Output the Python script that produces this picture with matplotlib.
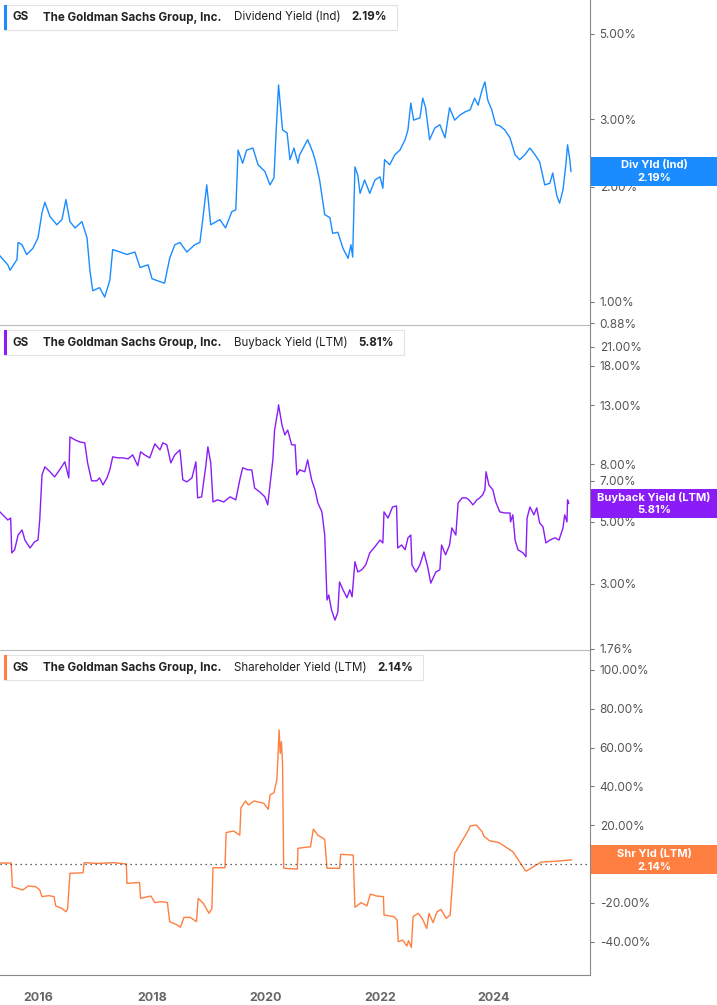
import matplotlib
matplotlib.use("Agg")
import matplotlib.pyplot as plt
from matplotlib.patches import Rectangle
import numpy as np

plt.rcParams["font.family"] = "Inter"

# ---------------- data ----------------
div_dates = [2015.33, 2015.47, 2015.51, 2015.63, 2015.65, 2015.72, 2015.80, 2015.91, 2016.00, 2016.07,
             2016.12, 2016.21, 2016.33, 2016.42, 2016.49, 2016.56, 2016.65, 2016.77, 2016.86, 2016.91,
             2016.96, 2017.08, 2017.17, 2017.26, 2017.31, 2017.44, 2017.56, 2017.70, 2017.79, 2017.93,
             2018.00, 2018.14, 2018.22, 2018.31, 2018.40, 2018.49, 2018.61, 2018.75, 2018.84, 2018.89,
             2018.96, 2019.03, 2019.19, 2019.29, 2019.40, 2019.47, 2019.51, 2019.59, 2019.66, 2019.77,
             2019.86, 2019.98, 2020.07, 2020.14, 2020.17, 2020.22, 2020.29, 2020.37, 2020.42, 2020.49,
             2020.56, 2020.59, 2020.73, 2020.82, 2020.87, 2020.94, 2021.03, 2021.12, 2021.17, 2021.26,
             2021.35, 2021.44, 2021.49, 2021.52, 2021.56, 2021.61, 2021.65, 2021.73, 2021.82, 2021.91,
             2022.00, 2022.05, 2022.08, 2022.17, 2022.26, 2022.35, 2022.44, 2022.49, 2022.54, 2022.59,
             2022.70, 2022.75, 2022.80, 2022.87, 2022.96, 2023.05, 2023.14, 2023.22, 2023.31, 2023.40,
             2023.49, 2023.58, 2023.66, 2023.72, 2023.79, 2023.84, 2023.89, 2023.96, 2024.03, 2024.10,
             2024.19, 2024.28, 2024.37, 2024.45, 2024.54, 2024.63, 2024.72, 2024.80, 2024.89, 2024.98,
             2025.03, 2025.10, 2025.15, 2025.21, 2025.26, 2025.29, 2025.33, 2025.35]
div_yield = [1.32, 1.25, 1.21, 1.29, 1.43, 1.41, 1.33, 1.38, 1.47, 1.71,
             1.82, 1.67, 1.59, 1.64, 1.85, 1.62, 1.56, 1.62, 1.47, 1.21,
             1.07, 1.09, 1.03, 1.14, 1.37, 1.35, 1.33, 1.35, 1.23, 1.25,
             1.15, 1.13, 1.12, 1.30, 1.41, 1.43, 1.35, 1.41, 1.43, 1.64,
             2.02, 1.59, 1.64, 1.56, 1.72, 1.74, 2.49, 2.30, 2.49, 2.52,
             2.28, 2.19, 2.02, 2.11, 2.65, 3.68, 2.81, 2.76, 2.35, 2.52,
             2.30, 2.42, 2.65, 2.46, 2.32, 2.08, 1.69, 1.66, 1.51, 1.52,
             1.38, 1.30, 1.41, 1.31, 2.25, 2.14, 1.92, 2.08, 1.92, 2.08,
             2.12, 1.98, 2.35, 2.28, 2.42, 2.49, 2.65, 2.81, 3.30, 2.98,
             3.02, 3.40, 3.21, 2.65, 2.84, 2.90, 2.68, 3.21, 2.98, 3.07,
             3.13, 3.17, 3.40, 3.26, 3.57, 3.75, 3.36, 3.17, 2.90, 2.88,
             2.81, 2.68, 2.42, 2.35, 2.42, 2.52, 2.42, 2.32, 2.02, 2.04,
             2.17, 1.90, 1.81, 1.96, 2.28, 2.57, 2.35, 2.19]

bb_dates = [2015.33, 2015.47, 2015.52, 2015.54, 2015.59, 2015.65, 2015.72, 2015.77, 2015.86, 2015.94,
            2016.00, 2016.03, 2016.07, 2016.12, 2016.21, 2016.29, 2016.38, 2016.47, 2016.54, 2016.56,
            2016.65, 2016.73, 2016.82, 2016.87, 2016.94, 2017.03, 2017.08, 2017.14, 2017.21, 2017.26,
            2017.31, 2017.40, 2017.49, 2017.58, 2017.66, 2017.75, 2017.80, 2017.87, 2017.96, 2018.05,
            2018.14, 2018.19, 2018.26, 2018.33, 2018.40, 2018.49, 2018.54, 2018.61, 2018.70, 2018.77,
            2018.80, 2018.87, 2018.94, 2018.98, 2019.03, 2019.07, 2019.15, 2019.26, 2019.37, 2019.47,
            2019.54, 2019.59, 2019.68, 2019.75, 2019.80, 2019.89, 2019.98, 2020.03, 2020.07, 2020.12,
            2020.15, 2020.21, 2020.22, 2020.28, 2020.33, 2020.38, 2020.45, 2020.51, 2020.54, 2020.59,
            2020.68, 2020.73, 2020.80, 2020.86, 2020.91, 2020.98, 2021.03, 2021.07, 2021.10, 2021.15,
            2021.21, 2021.26, 2021.29, 2021.35, 2021.42, 2021.47, 2021.51, 2021.56, 2021.61, 2021.68,
            2021.75, 2021.82, 2021.91, 2022.00, 2022.05, 2022.07, 2022.14, 2022.22, 2022.29, 2022.31,
            2022.38, 2022.44, 2022.49, 2022.54, 2022.56, 2022.63, 2022.70, 2022.77, 2022.84, 2022.89,
            2022.98, 2023.05, 2023.08, 2023.15, 2023.22, 2023.26, 2023.33, 2023.37, 2023.44, 2023.51,
            2023.56, 2023.63, 2023.70, 2023.75, 2023.80, 2023.84, 2023.86, 2023.91, 2023.98, 2024.03,
            2024.10, 2024.19, 2024.28, 2024.29, 2024.33, 2024.37, 2024.42, 2024.51, 2024.56, 2024.58,
            2024.63, 2024.70, 2024.75, 2024.80, 2024.86, 2024.91, 2024.98, 2025.07, 2025.14, 2025.21,
            2025.24, 2025.28, 2025.29, 2025.31]
bb_yield = [5.42, 5.07, 5.15, 3.87, 3.97, 4.48, 4.67, 4.30, 4.03, 4.24,
            4.30, 5.07, 7.34, 7.84, 7.53, 7.22, 7.65, 8.17, 7.16, 10.02,
            9.78, 9.62, 9.55, 8.10, 6.99, 6.99, 7.16, 6.76, 7.16, 7.65,
            8.51, 8.44, 8.44, 8.37, 8.65, 7.91, 8.87, 8.65, 8.44, 9.47,
            9.01, 9.55, 9.39, 8.10, 8.65, 9.01, 7.05, 6.93, 7.16, 8.17,
            6.08, 6.13, 7.78, 9.24, 8.10, 5.88, 5.98, 5.88, 6.13, 5.98,
            7.05, 7.78, 7.65, 7.65, 6.59, 6.38, 6.13, 5.74, 6.76, 8.30,
            10.6, 12.5, 13.04, 11.05, 10.19, 10.6, 9.39, 9.39, 7.34, 7.65,
            7.53, 8.30, 7.05, 6.49, 5.83, 5.42, 4.48, 2.63, 2.74, 2.42,
            2.23, 2.38, 3.05, 2.86, 2.68, 2.86, 2.70, 3.60, 3.31, 3.37,
            3.51, 3.87, 4.07, 4.30, 4.20, 5.42, 5.15, 5.64, 5.69, 4.03,
            4.13, 3.97, 4.38, 4.48, 3.51, 3.31, 3.51, 3.90, 3.42, 3.02,
            3.31, 3.37, 4.13, 3.81, 4.13, 4.75, 4.48, 5.83, 6.08, 6.08,
            5.98, 5.74, 5.98, 6.08, 6.23, 6.49, 7.53, 6.76, 6.49, 5.88,
            5.42, 5.37, 5.37, 4.99, 5.29, 4.30, 3.97, 3.87, 3.75, 5.15,
            5.64, 5.29, 5.60, 4.95, 4.79, 4.20, 4.30, 4.38, 4.30, 4.75,
            5.29, 4.99, 5.98, 5.81]

shr_dates = [2015.33, 2015.53, 2015.55, 2015.73, 2015.83, 2015.96, 2016.03, 2016.07, 2016.19, 2016.28,
             2016.31, 2016.42, 2016.49, 2016.52, 2016.56, 2016.79, 2016.81, 2017.05, 2017.32, 2017.55,
             2017.56, 2017.78, 2017.80, 2017.98, 2018.05, 2018.17, 2018.27, 2018.31, 2018.44, 2018.50,
             2018.56, 2018.67, 2018.74, 2018.78, 2018.81, 2018.90, 2019.00, 2019.05, 2019.07, 2019.28,
             2019.30, 2019.43, 2019.54, 2019.56, 2019.64, 2019.69, 2019.79, 2019.96, 2020.04, 2020.07,
             2020.14, 2020.19, 2020.21, 2020.23, 2020.25, 2020.27, 2020.29, 2020.31, 2020.55, 2020.56,
             2020.78, 2020.83, 2020.91, 2021.03, 2021.07, 2021.29, 2021.31, 2021.53, 2021.56, 2021.67,
             2021.77, 2021.83, 2021.94, 2022.06, 2022.07, 2022.24, 2022.30, 2022.32, 2022.40, 2022.47,
             2022.50, 2022.55, 2022.58, 2022.67, 2022.74, 2022.82, 2022.86, 2022.93, 2023.00, 2023.07,
             2023.16, 2023.23, 2023.31, 2023.33, 2023.56, 2023.58, 2023.69, 2023.79, 2023.82, 2023.92,
             2024.09, 2024.30, 2024.33, 2024.55, 2024.57, 2024.81, 2024.83, 2025.11, 2025.36]
shr_yield = [0.5, 0.5, -11.7, -13.4, -11.3, -11.7, -13.4, -16.8, -16.3, -16.8,
             -21.6, -22.9, -24.6, -22.9, -4.8, -4.5, 0.7, 0.3, 0.7, 0.0,
             -10.0, -9.5, -17.7, -16.5, -19.9, -19.4, -19.9, -29.7, -31.4, -32.6,
             -27.5, -27.5, -28.9, -29.7, -17.7, -20.3, -25.4, -22.9, -1.9, -1.9,
             16.2, 17.0, 14.9, 29.0, 32.5, 30.4, 32.5, 31.3, 28.2, 35.6,
             36.8, 43.3, 55.3, 69.1, 57.0, 63.1, 51.9, -2.2, -2.6, 8.1,
             8.9, 18.0, 14.9, 12.7, -2.2, -2.2, 5.0, 4.6, -22.3, -19.9,
             -21.6, -15.5, -16.5, -16.8, -26.3, -27.1, -28.9, -40.0, -39.2, -42.3,
             -39.5, -43.0, -27.1, -25.4, -28.0, -33.2, -25.4, -30.2, -24.6, -23.4,
             -28.0, -26.3, 5.8, 6.4, 17.9, 19.6, 20.1, 16.7, 14.4, 12.0,
             11.0, 6.9, 6.4, -3.4, -3.6, 0.7, 1.0, 1.5, 2.14]

div_ticks = [0.88, 1.0, 2.0, 3.0, 5.0]
bb_ticks = [1.76, 3.0, 5.0, 7.0, 8.0, 13.0, 18.0, 21.0]
shr_ticks = [-40, -20, 0, 20, 40, 60, 80, 100]
year_ticks = [2016, 2018, 2020, 2022, 2024]

panels = [
    dict(dates=div_dates, vals=div_yield, color="#1a8cff", log=True, ylim=(0.871, 6.13), ticks=div_ticks,
         name="Dividend Yield (Ind)", last="2.19%", badge="Div Yld (Ind)"),
    dict(dates=bb_dates, vals=bb_yield, color="#8a1cf7", log=True, ylim=(1.745, 25.1), ticks=bb_ticks,
         name="Buyback Yield (LTM)", last="5.81%", badge="Buyback Yield (LTM)"),
    dict(dates=shr_dates, vals=shr_yield, color="#ff7f40", log=False, ylim=(-57.2, 110.3), ticks=shr_ticks,
         name="Shareholder Yield (LTM)", last="2.14%", badge="Shr Yld (LTM)"),
]

W, H = 717, 1005
fig = plt.figure(figsize=(W / 100, H / 100), dpi=100)
tops = [0, 325, 650]
ph = 325
xr = 590

def fx(px):
    return px / W

def fy(py):
    return 1 - py / H

fig.canvas.draw()
renderer = fig.canvas.get_renderer()

for i, p in enumerate(panels):
    top = tops[i]
    ax = fig.add_axes([0, fy(top + ph), fx(xr), ph / H])
    if p["log"]:
        ax.set_yscale("log")
    ax.plot(p["dates"], p["vals"], color=p["color"], lw=1.0)
    ax.set_xlim(2015.333, 2015.333 + xr / 57)
    ax.set_ylim(*p["ylim"])
    ax.yaxis.tick_right()
    ax.set_yticks(p["ticks"])
    ax.set_yticklabels([f"{t:.2f}%" for t in p["ticks"]])
    ax.yaxis.set_minor_locator(matplotlib.ticker.NullLocator())
    ax.tick_params(axis="y", length=3, width=0.8, color="#777", labelcolor="#555", labelsize=8.5, pad=4)
    for s in ["top", "left"]:
        ax.spines[s].set_visible(False)
    ax.spines["right"].set_color("#888")
    ax.spines["bottom"].set_color("#bbb")
    if i < 2:
        ax.set_xticks([])
    else:
        ax.spines["bottom"].set_color("#888")
        ax.set_xticks(year_ticks)
        ax.set_xticklabels([str(y) for y in year_ticks])
        ax.tick_params(axis="x", length=0, labelcolor="#666", labelsize=9, pad=12)
        for lb in ax.get_xticklabels():
            lb.set_fontweight("bold")
        ax.axhline(0, color="#333", lw=0.9, ls=(0, (1, 3)))
    ax.patch.set_alpha(0)

    # legend header: chained texts
    by = top + 5
    ty = fy(by + 12.5)
    parts = [("GS", "bold", 14), ("The Goldman Sachs Group, Inc.", "bold", 12),
             (p["name"], "normal", 11), (p["last"], "bold", 10)]
    xpx = 13
    for txt, wt, gap in parts:
        t = fig.text(fx(xpx), ty, txt, fontsize=8.3, fontweight=wt, va="center", color="#222", zorder=4)
        w = t.get_window_extent(renderer=renderer).width
        xpx += w + gap
    box_w = xpx - 4
    fig.add_artist(Rectangle((fx(4), fy(by + 25)), fx(box_w), 25 / H, transform=fig.transFigure,
                             facecolor="white", edgecolor="#e3e3e3", lw=0.8, zorder=3))
    fig.add_artist(Rectangle((fx(4), fy(by + 25)), fx(3), 25 / H, transform=fig.transFigure,
                             facecolor=p["color"], edgecolor="none", zorder=3.5))

    # value badge
    fig.canvas.draw()
    yd = ax.transData.transform((2020, p["vals"][-1]))[1]
    yc = yd / fig.dpi / (H / 100)
    bh = 29 / H
    fig.add_artist(Rectangle((fx(591), yc - bh / 2), fx(W - 591), bh, transform=fig.transFigure,
                             facecolor=p["color"], edgecolor="none", zorder=5))
    fig.text(fx(654), yc + 6 / H, p["badge"], fontsize=8, fontweight="bold", color="white",
             ha="center", va="center", zorder=6)
    fig.text(fx(654), yc - 7 / H, p["last"], fontsize=8, fontweight="bold", color="white",
             ha="center", va="center", zorder=6)

fig.savefig("out.png", dpi=100)
